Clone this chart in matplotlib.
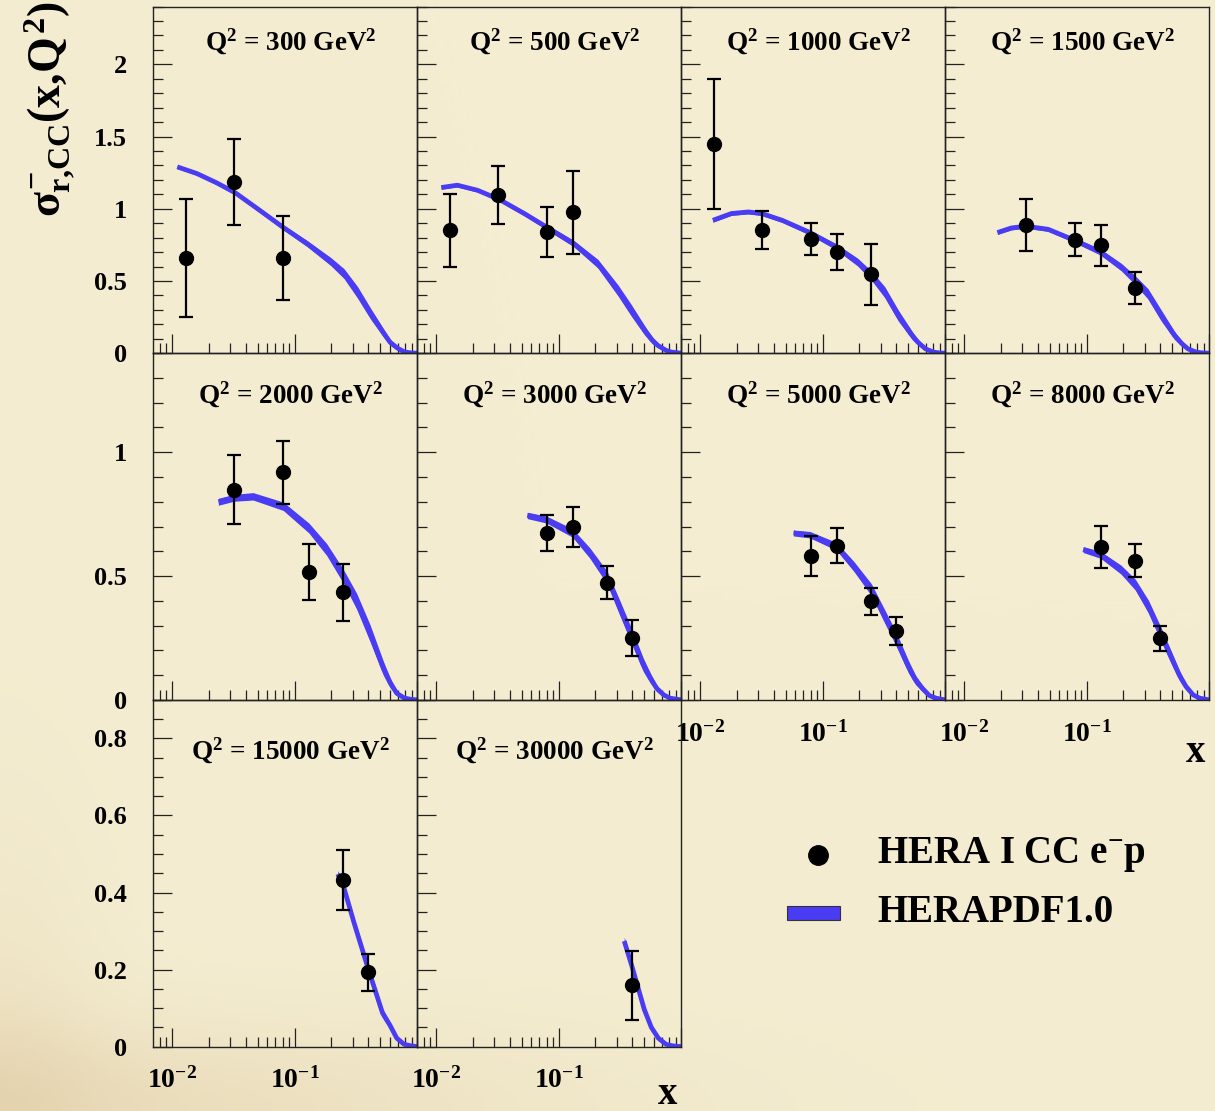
import numpy as np
import matplotlib.pyplot as plt
from matplotlib.ticker import FixedLocator, LogLocator, MultipleLocator, FuncFormatter, NullFormatter
from matplotlib.patches import Rectangle

plt.rcParams['font.family'] = 'Liberation Serif'
plt.rcParams['font.weight'] = 'bold'
plt.rcParams['mathtext.fontset'] = 'custom'
plt.rcParams['mathtext.rm'] = 'Liberation Serif:bold'
plt.rcParams['mathtext.it'] = 'Liberation Serif:bold'
plt.rcParams['mathtext.bf'] = 'Liberation Serif:bold'
plt.rcParams['mathtext.sf'] = 'Liberation Serif:bold'

# Q^2 bins, one panel each
q2_values = [300, 500, 1000, 1500, 2000, 3000, 5000, 8000, 15000, 30000]

# HERA I CC e-p data points per panel
point_x = [[0.013, 0.032, 0.08],
           [0.013, 0.032, 0.08, 0.13],
           [0.013, 0.032, 0.08, 0.13, 0.25],
           [0.032, 0.08, 0.13, 0.25],
           [0.032, 0.08, 0.13, 0.25],
           [0.08, 0.13, 0.25, 0.40],
           [0.08, 0.13, 0.25, 0.40],
           [0.13, 0.25, 0.40],
           [0.25, 0.40],
           [0.40]]
point_y = [[0.66, 1.186, 0.66],
           [0.85, 1.094, 0.839, 0.974],
           [1.447, 0.851, 0.79, 0.70, 0.546],
           [0.886, 0.786, 0.747, 0.453],
           [0.849, 0.919, 0.516, 0.434],
           [0.674, 0.697, 0.474, 0.249],
           [0.58, 0.623, 0.398, 0.279],
           [0.617, 0.562, 0.248],
           [0.433, 0.193],
           [0.159]]
point_err = [[0.41, 0.30, 0.29],
             [0.25, 0.20, 0.17, 0.29],
             [0.45, 0.13, 0.11, 0.126, 0.21],
             [0.18, 0.116, 0.14, 0.11],
             [0.14, 0.126, 0.112, 0.115],
             [0.071, 0.08, 0.067, 0.072],
             [0.08, 0.072, 0.054, 0.056],
             [0.086, 0.067, 0.05],
             [0.078, 0.048],
             [0.09]]

# HERAPDF1.0 band: x, central value, half width
band_x = [[0.0111, 0.016, 0.0233, 0.033, 0.05, 0.08, 0.127, 0.197, 0.253, 0.325, 0.417, 0.536, 0.6, 0.69, 0.78, 0.886, 1.0],
          [0.0111, 0.015, 0.0219, 0.033, 0.0526, 0.081, 0.133, 0.209, 0.305, 0.392, 0.504, 0.58, 0.646, 0.75, 0.83, 1.0],
          [0.0128, 0.0181, 0.0249, 0.032, 0.047, 0.079, 0.13, 0.193, 0.249, 0.321, 0.414, 0.537, 0.6, 0.69, 0.8, 0.895, 1.0],
          [0.0188, 0.0244, 0.032, 0.0486, 0.08, 0.13, 0.192, 0.25, 0.316, 0.406, 0.521, 0.6, 0.67, 0.78, 0.86, 1.0],
          [0.024, 0.032, 0.046, 0.081, 0.131, 0.183, 0.25, 0.321, 0.412, 0.529, 0.6, 0.68, 0.78, 0.87, 1.0],
          [0.0557, 0.08, 0.13, 0.18, 0.25, 0.316, 0.40, 0.49, 0.56, 0.63, 0.72, 0.81, 1.0],
          [0.058, 0.079, 0.13, 0.18, 0.25, 0.321, 0.40, 0.50, 0.57, 0.65, 0.74, 0.84, 1.0],
          [0.094, 0.13, 0.191, 0.25, 0.319, 0.40, 0.50, 0.57, 0.646, 0.74, 0.835, 1.0],
          [0.225, 0.25, 0.305, 0.40, 0.521, 0.6, 0.68, 0.78, 0.89, 1.0],
          [0.343, 0.40, 0.50, 0.57, 0.65, 0.75, 0.85, 1.0]]
band_mid = [[1.29, 1.244, 1.179, 1.11, 1.0, 0.874, 0.758, 0.635, 0.551, 0.423, 0.273, 0.135, 0.076, 0.035, 0.01, 0.002, 0.0],
            [1.147, 1.163, 1.128, 1.064, 0.967, 0.87, 0.759, 0.62, 0.435, 0.296, 0.157, 0.09, 0.053, 0.02, 0.008, 0.0],
            [0.92, 0.967, 0.978, 0.967, 0.92, 0.835, 0.735, 0.631, 0.539, 0.423, 0.261, 0.123, 0.075, 0.03, 0.008, 0.002, 0.0],
            [0.835, 0.867, 0.879, 0.858, 0.782, 0.70, 0.596, 0.504, 0.412, 0.261, 0.123, 0.065, 0.03, 0.008, 0.003, 0.0],
            [0.80, 0.816, 0.822, 0.782, 0.694, 0.607, 0.499, 0.398, 0.27, 0.128, 0.07, 0.027, 0.008, 0.003, 0.0],
            [0.745, 0.728, 0.674, 0.593, 0.492, 0.371, 0.249, 0.142, 0.088, 0.047, 0.02, 0.007, 0.0],
            [0.674, 0.667, 0.62, 0.539, 0.445, 0.337, 0.243, 0.135, 0.082, 0.047, 0.018, 0.007, 0.0],
            [0.607, 0.586, 0.526, 0.465, 0.377, 0.27, 0.162, 0.1, 0.054, 0.02, 0.007, 0.0],
            [0.448, 0.417, 0.322, 0.2, 0.087, 0.055, 0.022, 0.006, 0.002, 0.0],
            [0.274, 0.204, 0.096, 0.05, 0.022, 0.006, 0.002, 0.0]]
band_half = [[0.012, 0.012, 0.013, 0.014, 0.015, 0.017, 0.021, 0.028, 0.034, 0.04, 0.038, 0.028, 0.02, 0.012, 0.006, 0.003, 0.0],
             [0.012, 0.012, 0.013, 0.014, 0.016, 0.018, 0.022, 0.03, 0.038, 0.04, 0.032, 0.024, 0.016, 0.008, 0.004, 0.0],
             [0.013, 0.013, 0.014, 0.014, 0.015, 0.017, 0.021, 0.027, 0.032, 0.038, 0.038, 0.028, 0.02, 0.01, 0.004, 0.002, 0.0],
             [0.013, 0.014, 0.014, 0.015, 0.017, 0.021, 0.026, 0.031, 0.036, 0.038, 0.028, 0.018, 0.01, 0.004, 0.002, 0.0],
             [0.014, 0.014, 0.015, 0.017, 0.02, 0.024, 0.028, 0.032, 0.034, 0.028, 0.02, 0.01, 0.004, 0.002, 0.0],
             [0.013, 0.014, 0.017, 0.021, 0.026, 0.03, 0.031, 0.027, 0.02, 0.013, 0.007, 0.003, 0.0],
             [0.012, 0.013, 0.016, 0.02, 0.024, 0.027, 0.028, 0.025, 0.019, 0.013, 0.007, 0.003, 0.0],
             [0.012, 0.014, 0.018, 0.022, 0.026, 0.028, 0.025, 0.02, 0.013, 0.007, 0.003, 0.0],
             [0.009, 0.01, 0.012, 0.014, 0.012, 0.009, 0.006, 0.003, 0.001, 0.0],
             [0.01, 0.012, 0.012, 0.009, 0.006, 0.003, 0.001, 0.0]]

# y range and ticks for each row of panels
row_ymax = [2.4, 1.4, 0.9]
row_yticks = [[0, 0.5, 1, 1.5, 2], [0, 0.5, 1], [0, 0.2, 0.4, 0.6, 0.8]]
row_yminor = [0.1, 0.1, 0.05]
row_title_y = [0.875, 0.855, 0.828]

band_color = '#4a3cf2'
W, H = 1215, 1111

fig = plt.figure(figsize=(W / 100, H / 100), dpi=100)

# parchment background
yy, xx = np.mgrid[0:1:300j, 0:1:300j]
base = np.array([244, 237, 209]) / 255.0
dark = np.array([222, 200, 160]) / 255.0
t = 0.45 * np.exp(-((xx / 0.45) ** 2 + ((1 - yy) / 0.08) ** 2)) + 0.25 * np.exp(-((xx / 0.08) ** 2 + ((1 - yy) / 0.25) ** 2))
t = np.clip(t, 0, 1)[..., None]
bg = base * (1 - t) + dark * t
bgax = fig.add_axes([0, 0, 1, 1], zorder=-5)
bgax.imshow(bg, aspect='auto', extent=[0, 1, 0, 1], origin='upper')
bgax.axis('off')

col_left = [153.3, 417.3, 681.3, 945.3]
row_top = [6.5, 353.2, 699.9]
pw, ph = 264.0, 346.7


def fmt_x(v, pos):
    if abs(v - 0.01) < 1e-6:
        return r'$10^{-2}$'
    if abs(v - 0.1) < 1e-5:
        return r'$10^{-1}$'
    return ''


for i, q2 in enumerate(q2_values):
    row, col = divmod(i, 4)
    ax = fig.add_axes([col_left[col] / W, 1 - (row_top[row] + ph) / H, pw / W, ph / H])
    ax.set_facecolor('none')
    ax.set_xscale('log')
    ax.set_xlim(10 ** -2.15, 1.0)
    ax.set_ylim(0, row_ymax[row])

    bx = np.array(band_x[i])
    bm = np.array(band_mid[i])
    bh = np.array(band_half[i])
    ax.fill_between(bx, bm - bh, bm + bh, color=band_color, lw=0, zorder=2)
    ax.plot(bx, bm, color=band_color, lw=3.4, zorder=2, solid_joinstyle='round',
            solid_capstyle='butt')

    ax.errorbar(point_x[i], point_y[i], yerr=point_err[i], fmt='o', color='black',
                ms=10, elinewidth=1.6, capsize=5, capthick=1.6, zorder=3)

    ax.text(0.52, row_title_y[row], r'Q$^{2}$ = %d GeV$^{2}$' % q2, transform=ax.transAxes,
            ha='center', va='baseline', fontsize=19.5, fontweight='bold')

    for sp in ax.spines.values():
        sp.set_linewidth(1.0)
        sp.set_color('#222222')

    ax.xaxis.set_major_locator(FixedLocator([0.01, 0.1, 1.0]))
    ax.xaxis.set_minor_locator(LogLocator(base=10, subs=np.arange(2, 10), numticks=20))
    ax.xaxis.set_minor_formatter(NullFormatter())
    ax.yaxis.set_major_locator(FixedLocator(row_yticks[row]))
    ax.yaxis.set_minor_locator(MultipleLocator(row_yminor[row]))

    ax.tick_params(which='both', direction='in', top=False, right=False, colors='#222222')
    ax.tick_params(which='major', length=14, width=0.9)
    ax.tick_params(which='minor', length=7.5, width=0.9)
    ax.tick_params(axis='y', which='major', labelsize=19, pad=19, labelcolor='black')
    ax.tick_params(axis='x', which='major', labelsize=20, pad=15, labelcolor='black')

    show_x = row == 2 or (row == 1 and col >= 2)
    if show_x:
        ax.xaxis.set_major_formatter(FuncFormatter(fmt_x))
    else:
        ax.xaxis.set_major_formatter(NullFormatter())
    if col == 0:
        ax.yaxis.set_major_formatter(FuncFormatter(lambda v, pos: '%g' % v))
    else:
        ax.yaxis.set_major_formatter(NullFormatter())

# axis titles
fig.text(50 / W, 1 - 1 / H, r'$\sigma^{-}_{r{,}CC}(x{,}Q^{2})$', rotation=90,
         ha='center', va='top', fontsize=33)
fig.text(1196 / W, 1 - 752 / H, 'x', ha='center', va='center', fontsize=28, fontweight='bold')
fig.text(668 / W, 1 - 1094 / H, 'x', ha='center', va='center', fontsize=28, fontweight='bold')

# legend
lax = fig.add_axes([0, 0, 1, 1], zorder=5)
lax.set_xlim(0, W)
lax.set_ylim(H, 0)
lax.axis('off')
lax.plot([818], [855], 'o', color='black', ms=14)
lax.add_patch(Rectangle((787, 906), 53, 14, facecolor=band_color, edgecolor='#333333', lw=0.8))
lax.text(877, 855, r'HERA I CC e$^{-}$p', ha='left', va='center', fontsize=28, fontweight='bold')
lax.text(877, 912, 'HERAPDF1.0', ha='left', va='center', fontsize=28, fontweight='bold')

fig.savefig('out.png', dpi=100)
